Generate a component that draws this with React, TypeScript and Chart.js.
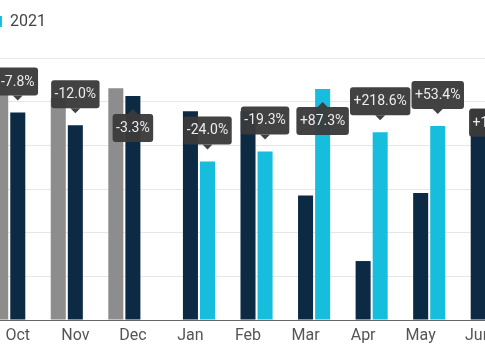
import { useEffect, useRef } from 'react';
import { Chart, registerables } from 'chart.js';

Chart.register(...registerables);

const months = ['Oct', 'Nov', 'Dec', 'Jan', 'Feb', 'Mar', 'Apr', 'May', 'Jun'];
const series2019 = [5.15, 5.07, 5.31, null, null, null, null, null, null];
const series2020 = [4.75, 4.46, 5.13, 4.78, 4.78, 2.85, 1.35, 2.91, 4.84];
const series2021 = [null, null, null, 3.63, 3.86, 5.29, 4.3, 4.44, 5.25];
const changeLabels = ['-7.8%', '-12.0%', '-3.3%', '-24.0%', '-19.3%', '+87.3%', '+218.6%', '+53.4%', '+10.4%'];
const yMin = 0;
const yMax = 6;
const yStep = 1;

const FONT = 'Roboto, "Noto Sans", Arial, sans-serif';

const changeLabelPlugin = {
  id: 'changeLabels',
  afterDatasetsDraw(chart: any) {
    const ctx = chart.ctx;
    const area = chart.chartArea;
    const h = 28;
    const padX = 3.5;
    const gapAbove = 17;
    const gapBelow = 18;
    const tri = 5;
    ctx.save();
    ctx.font = `14px ${FONT}`;
    changeLabels.forEach((text, i) => {
      let dsIndex = -1;
      for (let d = chart.data.datasets.length - 1; d >= 0; d--) {
        const v = chart.data.datasets[d].data[i];
        if (v !== null && v !== undefined) {
          dsIndex = d;
          break;
        }
      }
      if (dsIndex < 0) return;
      const el = chart.getDatasetMeta(dsIndex).data[i];
      if (!el) return;
      const x = el.x;
      const top = el.y;
      const w = ctx.measureText(text).width + padX * 2;
      const above = top - gapAbove - h >= area.top;
      const boxTop = above ? top - gapAbove - h : top + gapBelow;
      const left = x - w / 2;
      const r = 3;
      ctx.fillStyle = 'rgba(58,58,58,0.96)';
      ctx.beginPath();
      ctx.moveTo(left + r, boxTop);
      ctx.lineTo(left + w - r, boxTop);
      ctx.quadraticCurveTo(left + w, boxTop, left + w, boxTop + r);
      ctx.lineTo(left + w, boxTop + h - r);
      ctx.quadraticCurveTo(left + w, boxTop + h, left + w - r, boxTop + h);
      ctx.lineTo(left + r, boxTop + h);
      ctx.quadraticCurveTo(left, boxTop + h, left, boxTop + h - r);
      ctx.lineTo(left, boxTop + r);
      ctx.quadraticCurveTo(left, boxTop, left + r, boxTop);
      ctx.closePath();
      ctx.fill();
      ctx.beginPath();
      if (above) {
        const b = boxTop + h;
        ctx.moveTo(x - tri, b);
        ctx.lineTo(x + tri, b);
        ctx.lineTo(x, b + tri);
      } else {
        ctx.moveTo(x - tri, boxTop);
        ctx.lineTo(x + tri, boxTop);
        ctx.lineTo(x, boxTop - tri);
      }
      ctx.closePath();
      ctx.fill();
      ctx.fillStyle = '#ececec';
      ctx.textAlign = 'center';
      ctx.textBaseline = 'middle';
      ctx.fillText(text, x, boxTop + h / 2 + 0.5);
    });
    ctx.restore();
  },
};

const legendGapPlugin = {
  id: 'legendGap',
  afterInit(chart: any) {
    const legend = chart.legend;
    if (!legend) return;
    const orig = legend.fit;
    legend.fit = function () {
      orig.call(this);
      this.height += 18.5;
    };
  },
};

export default function App() {
  const ref = useRef<HTMLCanvasElement | null>(null);

  useEffect(() => {
    if (!ref.current) return;
    const chart = new Chart(ref.current, {
      type: 'bar',
      data: {
        labels: months,
        datasets: [
          {
            label: '2019',
            data: series2019 as any,
            backgroundColor: '#8d8d8d',
            borderWidth: 0,
            categoryPercentage: 0.89,
            barPercentage: 0.88,
          },
          {
            label: '2020',
            data: series2020 as any,
            backgroundColor: '#0c2a43',
            borderWidth: 0,
            categoryPercentage: 0.89,
            barPercentage: 0.88,
          },
          {
            label: '2021',
            data: series2021 as any,
            backgroundColor: '#17bddd',
            borderWidth: 0,
            categoryPercentage: 0.89,
            barPercentage: 0.88,
          },
        ],
      },
      options: {
        animation: false,
        responsive: false,
        devicePixelRatio: 1,
        layout: { padding: { top: 3.5, bottom: 8.8, left: 0, right: 0 } },
        plugins: {
          legend: {
            display: true,
            position: 'top',
            align: 'start',
            labels: {
              boxWidth: 11,
              boxHeight: 11,
              padding: 10,
              color: '#444',
              font: { family: FONT, size: 16 },
            },
          },
          tooltip: { enabled: false },
        },
        scales: {
          x: {
            grid: { display: false, drawTicks: false },
            border: { display: false },
            ticks: {
              color: '#555',
              padding: 6,
              font: { family: FONT, size: 16 },
            },
          },
          y: {
            position: 'left',
            min: yMin,
            max: yMax,
            ticks: { display: false, stepSize: yStep },
            grid: {
              drawTicks: false,
              color: (c: any) => (c.tick && c.tick.value === 0 ? '#666' : '#e6e6e6'),
              lineWidth: 1,
            },
            border: { display: false },
            afterFit: (scale: any) => {
              scale.width = 138;
            },
          },
        },
      } as any,
      plugins: [changeLabelPlugin, legendGapPlugin],
    });
    return () => chart.destroy();
  }, []);

  return (
    <div
      style={{
        position: 'fixed',
        left: 0,
        top: 0,
        width: 485,
        height: 360,
        overflow: 'hidden',
        background: '#fff',
      }}
    >
      <canvas
        ref={ref}
        width={656}
        height={360}
        style={{ position: 'absolute', left: -149, top: 0, width: 656, height: 360 }}
      />
    </div>
  );
}
